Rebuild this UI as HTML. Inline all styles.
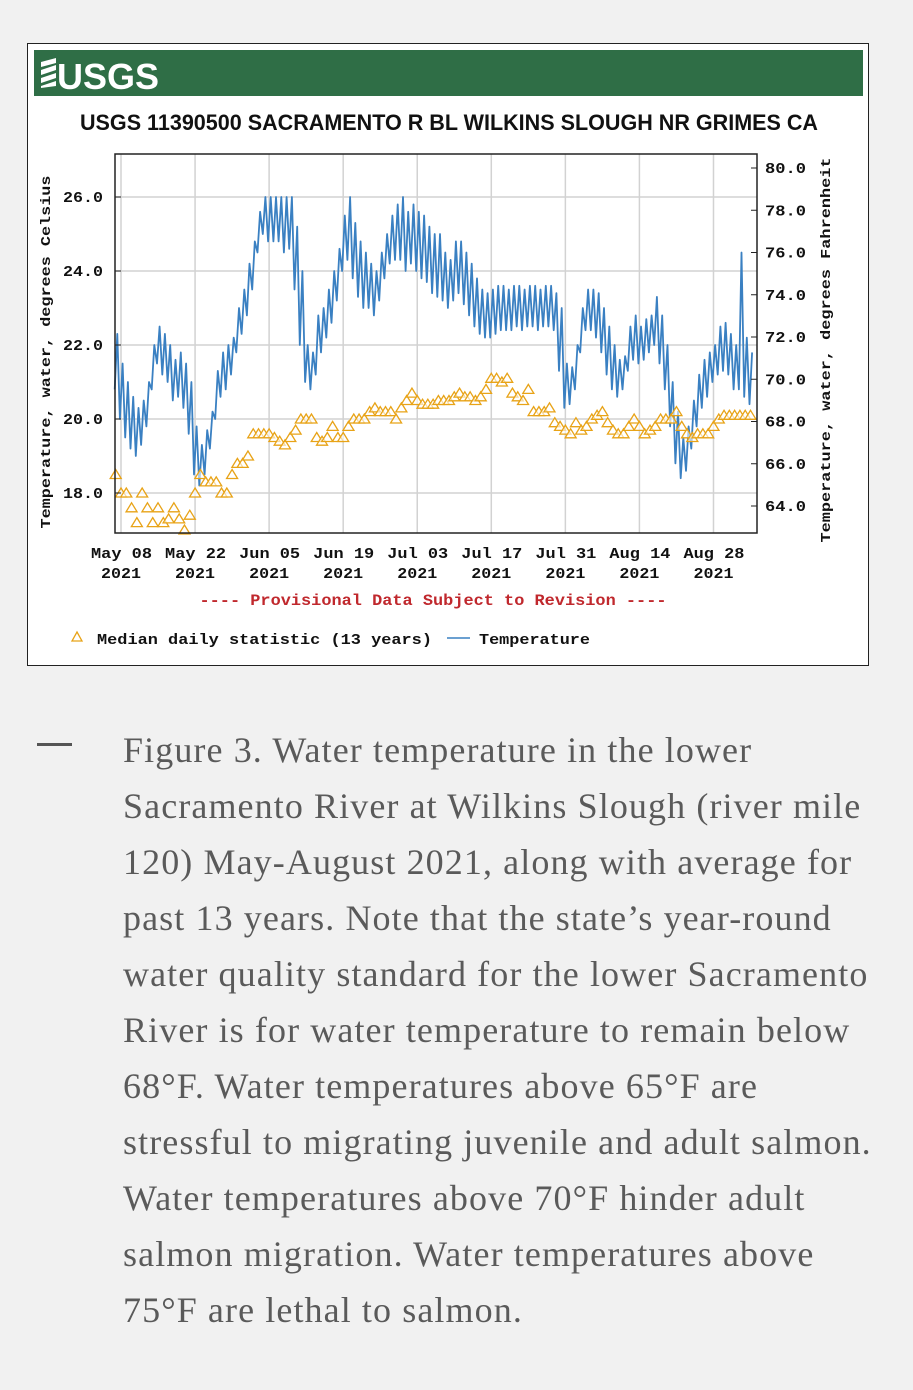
<!DOCTYPE html>
<html><head><meta charset="utf-8"><style>
body{margin:0;width:913px;height:1390px;background:#f1f1f1;position:relative;overflow:hidden;font-family:"Liberation Sans",sans-serif}
#box{position:absolute;left:27px;top:43px;width:842px;height:623px;background:#fff;border:1.5px solid #222;box-sizing:border-box}
#caption{position:absolute;left:123px;top:722px;width:790px;font-family:"Liberation Serif",serif;font-size:36px;letter-spacing:1.1px;line-height:56px;color:#5a5a5a;white-space:nowrap}
#caption div{height:56px}
#dash{position:absolute;left:37px;top:743px;width:35px;height:3px;background:#555}
</style></head><body>
<div id="box"></div>
<svg id="chart" width="913" height="680" style="position:absolute;left:0;top:0">
<rect x="34" y="50" width="829" height="46" fill="#2f6e46"/>
<g>
<path d="M41 62 L56 58 L56 63 L41 67 Z M41 70 L56 65 L56 70 L41 75 Z M41 78 L56 73 L56 78 L41 83 Z M41 86 L56 81 L56 86 L41 88Z" fill="#fff"/>
<text x="57" y="89" font-family="Liberation Sans" font-weight="bold" font-size="36" fill="#fff" textLength="102" lengthAdjust="spacingAndGlyphs">USGS</text>
</g>
<text x="449" y="130" text-anchor="middle" font-family="Liberation Sans" font-weight="bold" font-size="22" fill="#111" textLength="738" lengthAdjust="spacingAndGlyphs">USGS 11390500 SACRAMENTO R BL WILKINS SLOUGH NR GRIMES CA</text>
<g id="grid"></g>
<g id="marks"></g>
<rect x="115" y="154" width="642" height="379" fill="none" stroke="#222" stroke-width="1.5"/>
<g id="axes" font-family="Liberation Mono" font-weight="bold" font-size="15" fill="#111"></g>
<text transform="translate(50,352) rotate(-90)" text-anchor="middle" font-family="Liberation Mono" font-weight="bold" font-size="14" fill="#111" textLength="353" lengthAdjust="spacingAndGlyphs">Temperature, water, degrees Celsius</text>
<text transform="translate(830,350) rotate(-90)" text-anchor="middle" font-family="Liberation Mono" font-weight="bold" font-size="14" fill="#111" textLength="385" lengthAdjust="spacingAndGlyphs">Temperature, water, degrees Fahrenheit</text>
<text x="433" y="605" text-anchor="middle" font-family="Liberation Mono" font-weight="bold" font-size="15.5" fill="#c0282d" textLength="467" lengthAdjust="spacingAndGlyphs">---- Provisional Data Subject to Revision ----</text>
<g font-family="Liberation Mono" font-weight="bold" font-size="15" fill="#111">
<path d="M77 632 L82 641 L72 641 Z" fill="#fff" stroke="#e8a317" stroke-width="1.3"/>
<text x="97" y="644" textLength="335" lengthAdjust="spacingAndGlyphs">Median daily statistic (13 years)</text>
<line x1="447" y1="638" x2="470" y2="638" stroke="#3a80c2" stroke-width="1.5"/>
<text x="479" y="644" textLength="111" lengthAdjust="spacingAndGlyphs">Temperature</text>
</g>
</svg>
<div id="dash"></div>
<div id="caption">
<div>Figure 3. Water temperature in the lower</div>
<div>Sacramento River at Wilkins Slough (river mile</div>
<div>120) May-August 2021, along with average for</div>
<div>past 13 years. Note that the state’s year-round</div>
<div>water quality standard for the lower Sacramento</div>
<div>River is for water temperature to remain below</div>
<div>68°F. Water temperatures above 65°F are</div>
<div>stressful to migrating juvenile and adult salmon.</div>
<div>Water temperatures above 70°F hinder adult</div>
<div>salmon migration. Water temperatures above</div>
<div>75°F are lethal to salmon.</div>
</div>
<script>
// day index 0 = May 08 2021; data starts May 07 (day -1)
const startDay = -1;
const dailyMax = [22.3,21.5,21.0,20.6,20.3,20.5,21.0, 22.0,22.5,22.3,22.0,21.6,21.8,21.5, 21.0,19.8,19.3,19.7,20.2,21.3,21.8, 22.0,22.2,23.0,23.5,24.2,24.8,25.6, 26.0,26.0,26.0,26.0,26.0,26.0,25.2, 24.0,22.0,21.8,22.8,23.0,23.5,24.0, 24.6,25.5,26.0,25.3,24.8,24.5,24.2, 24.0,24.5,25.0,25.5,25.8,26.0,25.6, 25.8,25.6,25.5,25.2,25.0,25.0,24.5, 24.3,24.8,24.8,24.5,24.2,23.8,23.5, 23.4,23.5,23.6,23.6,23.5,23.6,23.6, 23.5,23.6,23.6,23.5,23.6,23.6,23.4, 23.0,21.5,21.4,22.0,23.0,23.5,23.5, 23.4,23.0,22.5,22.0,21.6,21.7,22.5, 22.8,22.5,22.7,22.8,23.3,22.8,22.0, 21.0,20.2,19.5,19.8,20.5,21.2,21.6, 21.8,22.0,22.5,22.6,22.3,22.0,24.5, 22.2,21.8];
const dailyMin = [20.8,20.0,19.5,19.2,19.0,19.3,19.8, 20.8,21.5,21.2,21.0,20.5,20.6,20.3, 19.6,18.5,18.2,18.5,19.2,20.0,20.6, 20.8,21.2,21.8,22.3,22.8,23.5,24.5, 25.0,24.8,24.8,24.8,24.5,24.6,23.5, 22.0,21.0,20.8,21.2,21.8,22.2,22.6, 23.2,24.0,24.3,23.8,23.3,23.0,23.0, 22.8,23.2,23.8,24.2,24.3,24.3,24.0, 24.2,24.0,23.8,23.7,23.4,23.3,23.2, 23.0,23.2,23.4,23.1,22.8,22.5,22.3, 22.2,22.2,22.3,22.4,22.4,22.4,22.5, 22.4,22.5,22.5,22.4,22.5,22.5,22.4, 21.3,20.3,20.4,20.8,21.8,22.4,22.4, 22.2,21.8,21.2,20.8,20.6,20.8,21.3, 21.6,21.5,21.6,21.8,22.0,21.5,20.8, 19.8,18.8,18.4,18.6,19.2,19.8,20.3, 20.6,21.0,21.2,21.3,21.2,20.8,20.8, 20.6,20.4];
const medians = [18.5,18.0,18.0,17.6,17.2,18.0,17.6,17.2,17.6,17.2,17.3,17.6,17.3,17.0,17.4,18.0,18.5,18.3,18.3,18.3,18.0,18.0,18.5,18.8,18.8, 19.0,19.6,19.6,19.6,19.6,19.5,19.4,19.3,19.5,19.7,20.0,20.0,20.0,19.5,19.4,19.5,19.8,19.5,19.5,19.8,20.0,20.0,20.0,20.2,20.3,20.2,20.2,20.2,20.0,20.3, 20.5,20.7,20.5,20.4,20.4,20.4,20.5,20.5,20.5,20.6,20.7,20.6,20.6,20.5,20.6,20.8,21.1,21.1,21.0,21.1,20.7,20.6,20.5,20.8,20.2,20.2,20.2,20.3,19.9,19.8,19.7, 19.6,19.9,19.7,19.8,20.0,20.1,20.2,19.9,19.7,19.6,19.6,19.8,20.0,19.8,19.6,19.7,19.8,20.0,20.0,20.0,20.2,19.8,19.6,19.5,19.6,19.6,19.6,19.8,20.0,20.1,20.1, 20.1,20.1,20.1,20.1];
const xTickDays = [0,14,28,42,56,70,84,98,112];
const xTickLabels = ["May 08","May 22","Jun 05","Jun 19","Jul 03","Jul 17","Jul 31","Aug 14","Aug 28"];
const cTicks = [18,20,22,24,26];
const fTicks = [64,66,68,70,72,74,76,78,80];

const NS = "http://www.w3.org/2000/svg";
const xS = d => 121 + d * 5.29;
function yCel(c){ return 197 + (26 - c) * 37; }
function yFah(f){ return 506 - (f - 64) * 21.125; }
function mk(tag, attrs, parent){ const e=document.createElementNS(NS,tag); for(const k in attrs) e.setAttribute(k,attrs[k]); parent.appendChild(e); return e; }

const grid = document.getElementById('grid');
const axes = document.getElementById('axes');
const marks = document.getElementById('marks');

cTicks.forEach(c=>{
  const y=yCel(c);
  const g=mk('line',{x1:115,x2:757,y1:y,y2:y,stroke:'#d2d2d2','stroke-width':1.5},grid);
  
  
  const t=mk('text',{x:63,y:y+5,textLength:40,lengthAdjust:'spacingAndGlyphs'},axes);
  t.textContent=c.toFixed(1);
  
  
  mk('line',{x1:115,x2:121,y1:y,y2:y,stroke:'#222'},axes);
});
fTicks.forEach(f=>{
  const y=yFah(f);
  const tk=mk('line',{x1:751,x2:757,y1:y,y2:y,stroke:'#222'},axes);
  
  
  const t=mk('text',{x:765,y:y+5,textLength:41,lengthAdjust:'spacingAndGlyphs'},axes);
  t.textContent=f.toFixed(1);
  
  
});
xTickDays.forEach((d,i)=>{
  const x=xS(d);
  const g=mk('line',{x1:x,x2:x,y1:154,y2:533,stroke:'#d2d2d2','stroke-width':1.5},grid);
  
  
  const t=mk('text',{x:x-30,y:558,textLength:61,lengthAdjust:'spacingAndGlyphs'},axes);
  t.textContent=xTickLabels[i];
  
  
  const t2=mk('text',{x:x-20,y:578,textLength:40,lengthAdjust:'spacingAndGlyphs'},axes);
  t2.textContent='2021';
  
  
});

let pts=[];
for(let i=0;i<dailyMax.length;i++){
  const d=startDay+i;
  pts.push(xS(d-0.2).toFixed(1)+','+yCel(dailyMin[i]).toFixed(1));
  pts.push(xS(d+0.3).toFixed(1)+','+yCel(dailyMax[i]).toFixed(1));
}
const line=mk('polyline',{points:pts.join(' '),fill:'none',stroke:'#3a80c2','stroke-width':1.8,'stroke-linejoin':'round'},marks);



medians.forEach((m,i)=>{
  const x=xS(startDay+i), y=yCel(m);
  const tri=mk('path',{d:`M${x} ${y-5} L${x+5.5} ${y+4} L${x-5.5} ${y+4} Z`,fill:'#fff','fill-opacity':0.6,stroke:'#e8a317','stroke-width':1.3},marks);
  
  
});
</script>
</body></html>
